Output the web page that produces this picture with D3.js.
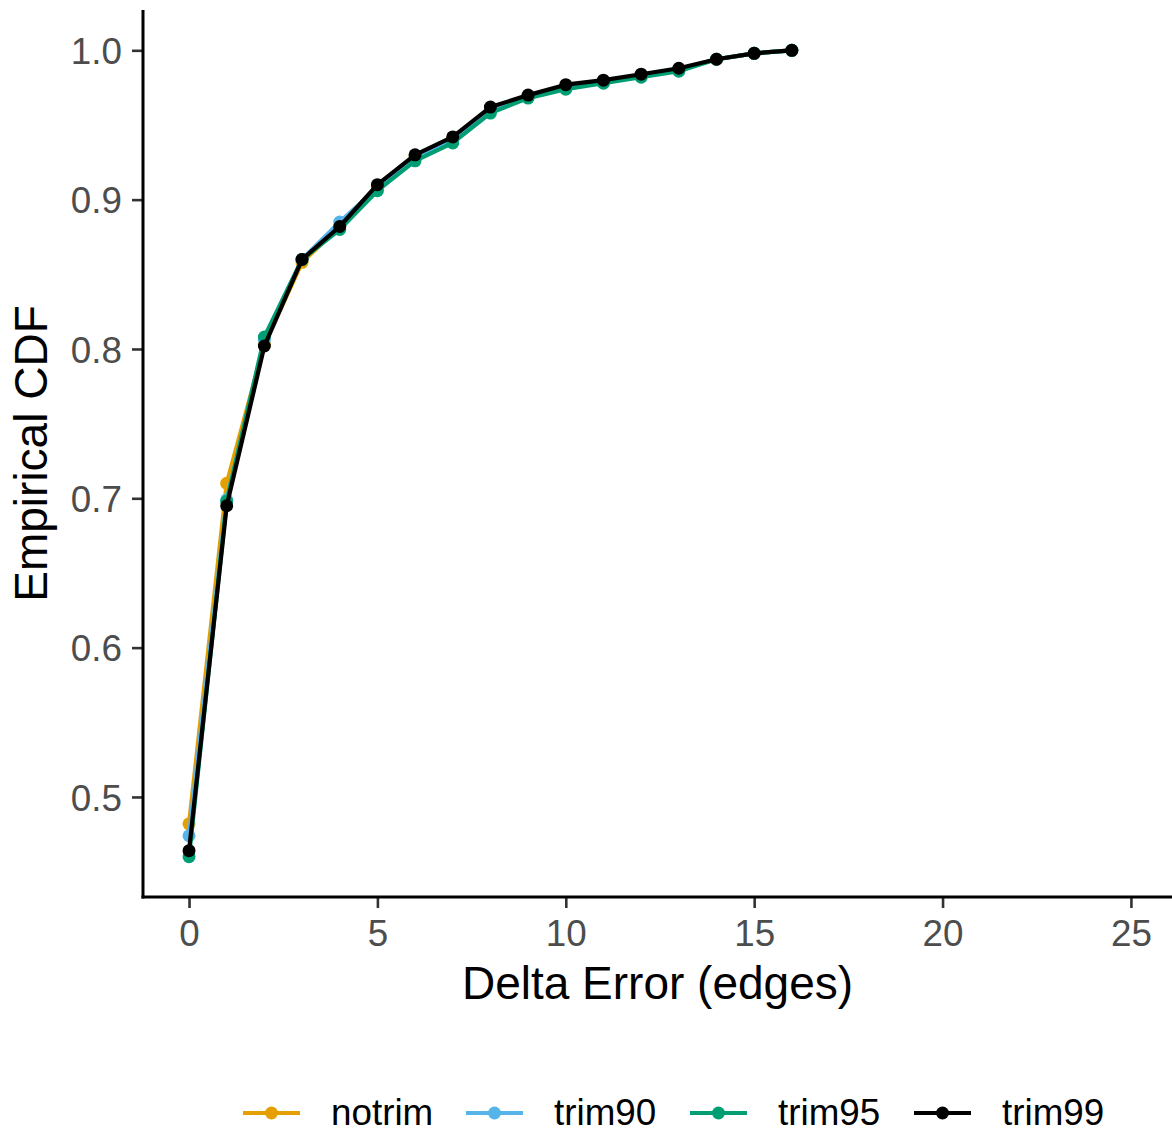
<!DOCTYPE html>
<html><head><meta charset="utf-8">
<script src="https://cdn.jsdelivr.net/npm/d3@7"></script>
<style>body{margin:0;background:#fff}svg{display:block}text{font-family:"Liberation Sans",Arial,sans-serif}</style>
</head><body>
<svg id="c" width="1172" height="1133"></svg>
<script>
const xs = [0,1,2,3,4,5,6,7,8,9,10,11,12,13,14,15,16];
const notrim = [0.482,0.710,0.803,0.858,0.882,0.909,0.929,0.941,0.961,0.969,0.976,0.979,0.983,0.987,0.994,0.998,1.000];
const trim90 = [0.474,0.699,0.806,0.860,0.885,0.908,0.928,0.940,0.960,0.969,0.975,0.979,0.983,0.987,0.994,0.998,1.000];
const trim95 = [0.460,0.698,0.808,0.860,0.880,0.906,0.926,0.938,0.958,0.968,0.974,0.978,0.982,0.986,0.994,0.998,1.000];
const trim99 = [0.464,0.695,0.802,0.860,0.882,0.910,0.930,0.942,0.962,0.970,0.977,0.980,0.984,0.988,0.994,0.998,1.000];
const seriesNames = ["notrim","trim90","trim95","trim99"];
const seriesColors = ["#E69F00","#56B4E9","#009E73","#000000"];
const xTicks = [0,5,10,15,20,25];
const yTicks = [0.5,0.6,0.7,0.8,0.9,1.0];

const series = [notrim,trim90,trim95,trim99];
const svg = d3.select("#c");
const L = 143, R = 1172, T = 10, B = 897;
const x = d3.scaleLinear().domain([-1.2215, 26.09]).range([L, R]);
const y = d3.scaleLinear().domain([0.433, 1.027]).range([B, T]);

// axes
const xa = svg.append("g").attr("transform",`translate(0,${B})`)
  .call(d3.axisBottom(x).tickValues(xTicks).tickSize(11).tickPadding(10).tickFormat(d3.format("d")));
const ya = svg.append("g").attr("transform",`translate(${L},0)`)
  .call(d3.axisLeft(y).tickValues(yTicks).tickSize(11).tickPadding(10).tickFormat(d3.format(".1f")));
[xa,ya].forEach(a=>{
  a.select(".domain").remove();
  a.selectAll(".tick line").attr("stroke","#333").attr("stroke-width",2.6);
  a.selectAll(".tick text").attr("fill","#4D4D4D").style("font-size","36.8px");
});
ya.selectAll(".tick text").attr("dy","0.36em");
xa.selectAll(".tick text").attr("dy","0.76em");
svg.append("line").attr("x1",L).attr("x2",L).attr("y1",T).attr("y2",B+1.5).attr("stroke","#000").attr("stroke-width",3);
svg.append("line").attr("x1",L-1.5).attr("x2",R).attr("y1",B).attr("y2",B).attr("stroke","#000").attr("stroke-width",3);

// series
const line = d3.line().x((d,i)=>x(xs[i])).y(d=>y(d));
series.forEach((s,k)=>{
  svg.append("path").datum(s).attr("d",line).attr("fill","none")
    .attr("stroke",seriesColors[k]).attr("stroke-width",4.2).attr("stroke-linejoin","round");
  svg.append("g").selectAll("circle").data(s).join("circle")
    .attr("cx",(d,i)=>x(xs[i])).attr("cy",d=>y(d)).attr("r",6.5).attr("fill",seriesColors[k]);
});

// titles
svg.append("text").attr("x",(L+R)/2).attr("y",999).attr("text-anchor","middle")
  .style("font-size","46px").attr("fill","#000").text("Delta Error (edges)");
svg.append("text").attr("transform",`translate(47,${(T+B)/2}) rotate(-90)`).attr("text-anchor","middle")
  .style("font-size","46px").attr("fill","#000").text("Empirical CDF");

// legend
const keyX = [243,466,690,914];
seriesNames.forEach((n,k)=>{
  const g = svg.append("g");
  g.append("line").attr("x1",keyX[k]).attr("x2",keyX[k]+57).attr("y1",1113).attr("y2",1113)
    .attr("stroke",seriesColors[k]).attr("stroke-width",4.2);
  g.append("circle").attr("cx",keyX[k]+28.5).attr("cy",1113).attr("r",6.5).attr("fill",seriesColors[k]);
  g.append("text").attr("x",keyX[k]+88).attr("y",1125).style("font-size","36.8px").attr("fill","#000").text(n);
});
</script>
</body></html>
